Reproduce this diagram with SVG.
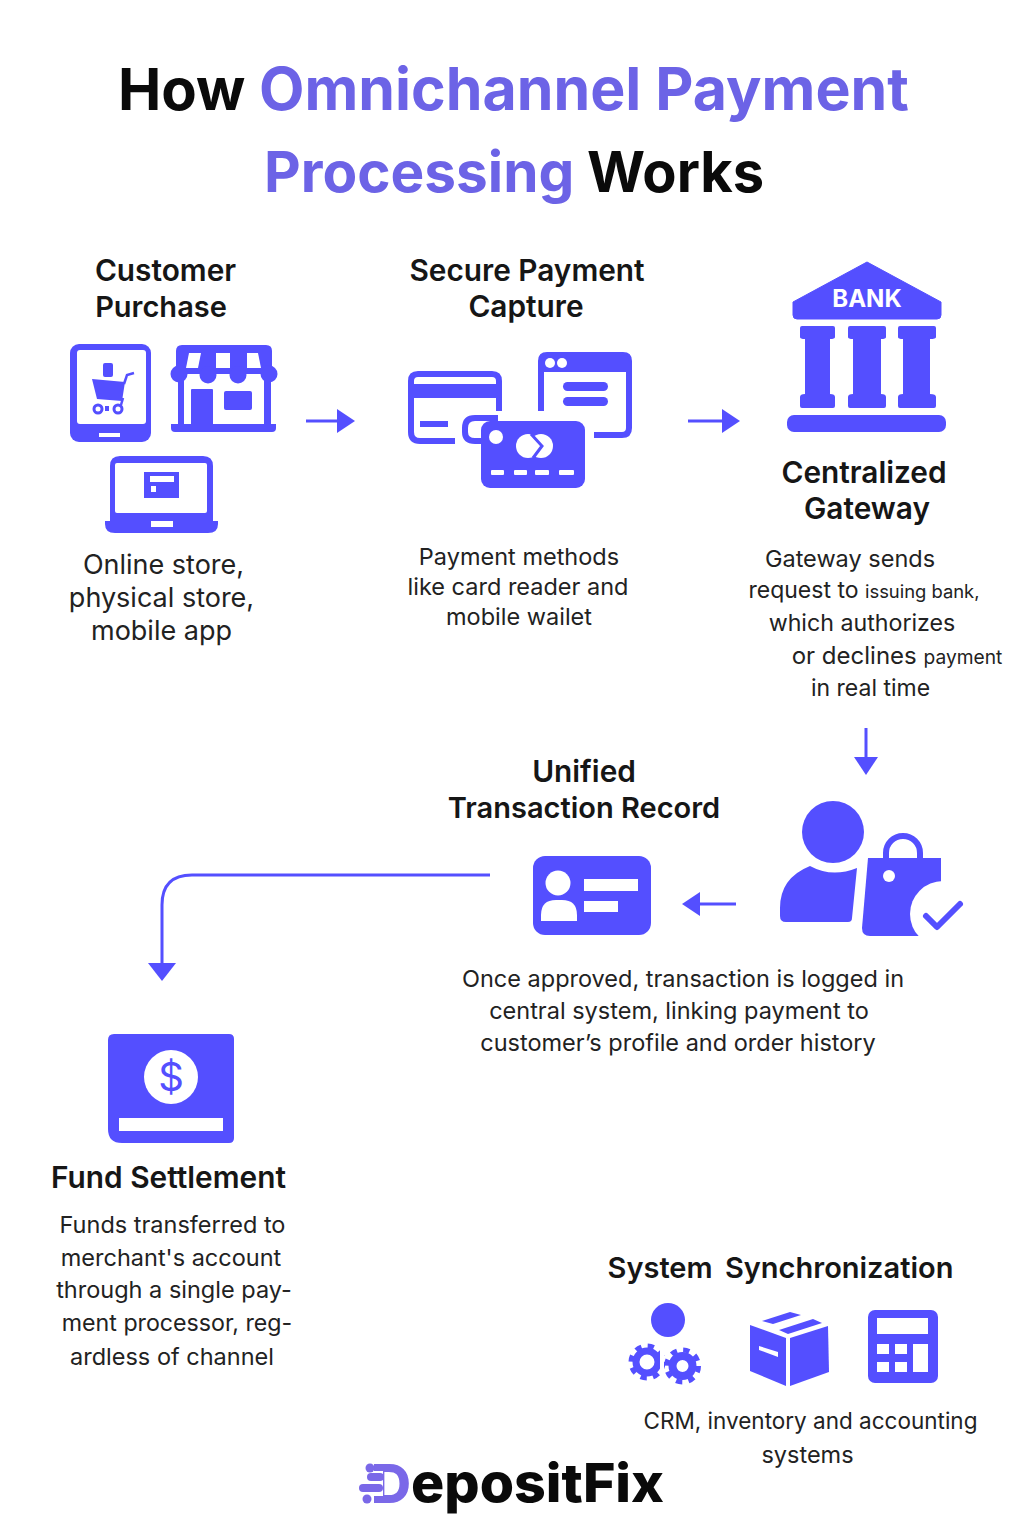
<svg xmlns="http://www.w3.org/2000/svg" width="1024" height="1536" viewBox="0 0 1024 1536">
<style>
text{font-family:"Inter","Liberation Sans",sans-serif;fill:#1a1a1a}
.t{font-weight:700;fill:#0a0a0a}
.p{fill:#6c63e6}
.h{font-size:29.8px;font-weight:600;text-anchor:middle;fill:#161616}
.n{font-size:29px}
.b{font-size:27px;text-anchor:middle;fill:#222}
.c{font-size:23.5px;text-anchor:middle;fill:#222}
.i{fill:#544fff}
.w{fill:#fff}
.l{fill:#7a68e8}
.o{fill:none;stroke:#544fff;stroke-width:6}
.a{fill:none;stroke:#544fff;stroke-width:3;marker-end:url(#ah)}
.s{font-size:.8em}
</style>
<defs>
<marker id="ah" markerUnits="userSpaceOnUse" markerWidth="18" markerHeight="24" viewBox="0 0 18 24" refX="0" refY="12" orient="auto"><path d="M0,0 L18,12 L0,24Z" fill="#544fff"/></marker>
<marker id="ah2" markerUnits="userSpaceOnUse" markerWidth="18" markerHeight="28" viewBox="0 0 18 28" refX="0" refY="14" orient="auto"><path d="M0,0 L18,14 L0,28Z" fill="#544fff"/></marker>
</defs>
<rect width="1024" height="1536" fill="#fff"/>
<g id="title">
<text class="t" x="118" y="110" font-size="58">How</text>
<text class="t p" x="259" y="110" font-size="59" style="fill:#6c63e6">Omnichannel Payment</text>
<text class="t p" x="264" y="192" font-size="56.7" style="fill:#6c63e6">Processing</text>
<text class="t" x="587" y="192" font-size="56">Works</text>
</g>
<g id="connectors">
<path class="a" d="M306,421 H337"/>
<path class="a" d="M688,421 H722"/>
<path class="a" d="M866,728 V757"/>
<path class="a" d="M736,904 H700"/>
<path class="a" style="marker-end:url(#ah2)" d="M490,875 H192 Q162,875 162,905 V963"/>
</g>
<g id="customer-purchase">
<text class="h" x="165.500" y="281">Customer</text>
<text class="h n" x="161" y="317">Purchase</text>
<rect class="i" x="70" y="344" width="81" height="98" rx="9"/>
<rect class="w" x="77" y="350" width="69" height="74" rx="3"/>
<rect class="w" x="99" y="433" width="21" height="4"/>
<rect class="i" x="103" y="363" width="10" height="14" rx="2"/>
<path class="i" d="M92,379 L125,382 L122,401 L97,399Z"/>
<path d="M124,384 L127,375 L134,373" fill="none" stroke="#544fff" stroke-width="2.500"/>
<path d="M123,398 L121,405" fill="none" stroke="#544fff" stroke-width="2.500"/>
<circle cx="98" cy="409" r="4" fill="#fff" stroke="#544fff" stroke-width="3"/>
<circle cx="118" cy="409" r="4" fill="#fff" stroke="#544fff" stroke-width="3"/>
<rect class="i" x="105" y="406" width="4" height="5"/>
<path class="i" d="M176,351 Q176,345 182,345 H266 Q272,345 272,351 V374 H176Z"/>
<circle class="i" cx="179" cy="374" r="8.500"/>
<circle class="i" cx="269" cy="374" r="8.500"/>
<circle class="i" cx="208" cy="375" r="8.500"/>
<circle class="i" cx="238" cy="375" r="8.500"/>
<rect class="i" x="178" y="376" width="6" height="50"/>
<rect class="i" x="264" y="376" width="7" height="50"/>
<path class="i" d="M171,424 H276 V428 Q276,432 272,432 H175 Q171,432 171,428Z"/>
<path class="w" d="M189,353 H201 L198,368 H186Z"/>
<rect class="w" x="216" y="353" width="14" height="15"/>
<path class="w" d="M247,353 H258 L261,368 H247Z"/>
<rect class="i" x="191" y="389" width="22" height="36" rx="1"/>
<rect class="i" x="224" y="391" width="28" height="19" rx="2"/>
<path class="i" d="M110,521 V466 Q110,456 120,456 H203 Q213,456 213,466 V521 H218 V524 Q218,533 208,533 H115 Q105,533 105,524 V521Z"/>
<rect class="w" x="115" y="463" width="92" height="50" rx="2"/>
<rect class="w" x="151" y="521" width="22" height="6"/>
<rect class="i" x="144" y="472" width="35" height="26"/>
<rect class="w" x="150" y="476" width="24" height="6"/>
<rect class="w" x="151" y="486" width="5" height="6"/>
<text class="b" x="163.500" y="574">Online store,</text>
<text class="b" x="161.500" y="607">physical store,</text>
<text class="b" x="161.500" y="640">mobile app</text>
</g>
<g id="secure-payment-capture">
<text class="h" x="527" y="281">Secure Payment</text>
<text class="h" x="526" y="317">Capture</text>
<path class="o" d="M499,411 V381 Q499,374 492,374 H418 Q411,374 411,381 V432 Q411,441 420,441 H455"/>
<rect class="i" x="411" y="384" width="88" height="14"/>
<rect class="i" x="420" y="421" width="28" height="6"/>
<path class="o" d="M498,418 H475 Q465,418 465,428 V432 Q465,441 475,441 H485"/>
<path class="o" d="M541,411 V361 Q541,355 547,355 H623 Q629,355 629,361 V428 Q629,435 622,435 H594"/>
<path class="i" d="M541,372 V361 Q541,355 547,355 H623 Q629,355 629,361 V372Z"/>
<circle class="w" cx="550" cy="363" r="5"/>
<circle class="w" cx="562" cy="363" r="5"/>
<rect class="i" x="563" y="382" width="45" height="9" rx="4.500"/>
<rect class="i" x="563" y="397" width="45" height="9" rx="4.500"/>
<rect class="i" x="481" y="421" width="104" height="67" rx="9"/>
<circle class="w" cx="496" cy="437" r="7"/>
<circle class="w" cx="528" cy="446" r="12"/>
<circle class="w" cx="541" cy="446" r="12"/>
<path d="M531,434 L542,446 L533,458" fill="none" stroke="#544fff" stroke-width="3"/>
<rect class="w" x="491" y="470" width="13" height="5" rx="1"/>
<rect class="w" x="514" y="470" width="13" height="5" rx="1"/>
<rect class="w" x="535" y="470" width="14" height="5" rx="1"/>
<rect class="w" x="559" y="470" width="15" height="5" rx="1"/>
<text class="c" x="519" y="565">Payment methods</text>
<text class="c" x="518" y="595">like card reader and</text>
<text class="c" x="519" y="625">mobile wailet</text>
</g>
<g id="centralized-gateway">
<path class="i" d="M867,262 L941,302 V315 Q941,319 937,319 H797 Q793,319 793,315 V302Z" stroke="#544fff" stroke-width="1" stroke-linejoin="round"/>
<text x="867" y="307" text-anchor="middle" font-size="24" font-weight="700" style="fill:#fff">BANK</text>
<path class="i" d="M800,328 Q800,326 802,326 H833 Q835,326 835,328 V337 Q835,339 830,339 V394 Q835,394 835,397 V406 Q835,408 833,408 H802 Q800,408 800,406 V397 Q800,394 805,394 V339 Q800,339 800,337Z"/>
<path class="i" d="M848,328 Q848,326 850,326 H884 Q886,326 886,328 V337 Q886,339 881,339 V394 Q886,394 886,397 V406 Q886,408 884,408 H850 Q848,408 848,406 V397 Q848,394 853,394 V339 Q848,339 848,337Z"/>
<path class="i" d="M898,328 Q898,326 900,326 H934 Q936,326 936,328 V337 Q936,339 930,339 V394 Q936,394 936,397 V406 Q936,408 934,408 H900 Q898,408 898,406 V397 Q898,394 903,394 V339 Q898,339 898,337Z"/>
<rect class="i" x="787" y="415" width="159" height="17" rx="7"/>
<text class="h" x="864" y="483">Centralized</text>
<text class="h" x="867" y="519">Gateway</text>
<text class="c" x="850" y="567">Gateway sends</text>
<text class="c" x="864" y="598" style="font-size:23px">request to <tspan class="s">issuing bank,</tspan></text>
<text class="c" x="862" y="631" style="font-size:23.200px">which authorizes</text>
<text class="c" x="897" y="664" style="font-size:24px">or declines <tspan class="s">payment</tspan></text>
<text class="c" x="870.500" y="696" style="font-size:23px">in real time</text>
</g>
<g id="customer-order">
<circle class="i" cx="833" cy="832" r="31"/>
<path class="i" d="M810,866 Q780,878 780,908 V916 Q780,922 786,922 H848 Q852,922 852,918 L857,868 Q832,878 810,866Z"/>
<path d="M886,860 V853 A17,17 0 0 1 920,853 V860" fill="none" stroke="#544fff" stroke-width="6"/>
<path class="i" d="M868,858 H941 V936 H870 Q862,936 862,928Z"/>
<circle class="w" cx="943" cy="914" r="33"/>
<rect class="w" x="941" y="880" width="30" height="60"/>
<circle class="w" cx="889" cy="876" r="6"/>
<path d="M926,916 L937,927 L960,904" fill="none" stroke="#544fff" stroke-width="6" stroke-linecap="round" stroke-linejoin="round"/>
</g>
<g id="unified-transaction-record">
<text class="h" x="584" y="782">Unified</text>
<text class="h n" x="584" y="818">Transaction Record</text>
<rect class="i" x="533" y="856" width="118" height="79" rx="12"/>
<circle class="w" cx="558" cy="883" r="12.500"/>
<path class="w" d="M541,921 V915 Q541,900 556,900 H562 Q577,900 577,915 V921Z"/>
<rect class="w" x="584" y="879" width="54" height="12"/>
<rect class="w" x="584" y="901" width="34" height="11"/>
<text class="c" x="683" y="987">Once approved, transaction is logged in</text>
<text class="c" x="679" y="1019">central system, linking payment to</text>
<text class="c" x="678" y="1051">customer’s profile and order history</text>
</g>
<g id="fund-settlement">
<path class="i" d="M114,1034 H229 Q234,1034 234,1039 V1138 Q234,1143 229,1143 H122 Q108,1143 108,1129 V1040 Q108,1034 114,1034Z"/>
<circle class="w" cx="171" cy="1077" r="27"/>
<text x="171" y="1091" text-anchor="middle" font-size="40" font-weight="400" style="fill:#544fff">$</text>
<rect class="w" x="119" y="1118" width="104" height="13"/>
<text class="h" x="168.500" y="1188">Fund Settlement</text>
<text class="c" x="172.500" y="1233">Funds transferred to</text>
<text class="c" x="171" y="1266">merchant's account</text>
<text class="c" x="174" y="1298">through a single pay-</text>
<text class="c" x="177" y="1331" style="font-size:23.200px">ment processor, reg-</text>
<text class="c" x="172" y="1365">ardless of channel</text>
</g>
<g id="system-synchronization">
<text class="h n" x="780.500" y="1278" word-spacing="5">System Synchronization</text>
<circle class="i" cx="668" cy="1320" r="17"/>
<g id="gear-a"><circle cx="647" cy="1362" r="16" fill="none" stroke="#544fff" stroke-width="5" stroke-dasharray="6.300 6.300"/><circle cx="647" cy="1362" r="11" fill="none" stroke="#544fff" stroke-width="7"/><rect class="w" x="660" y="1340" width="4" height="44"/></g>
<g id="gear-b"><circle cx="682.500" cy="1366" r="16" fill="none" stroke="#544fff" stroke-width="5" stroke-dasharray="6.300 6.300"/><circle cx="682.500" cy="1366" r="10" fill="none" stroke="#544fff" stroke-width="8"/></g>
<path class="i" d="M750,1325 L786,1338 V1386 L750,1371Z"/>
<path class="i" d="M790,1338 L828,1326 L829,1372 L790,1386Z"/>
<path class="i" d="M762,1321 L790,1312 L801,1315 L773,1324Z"/>
<path class="i" d="M779,1330 L813,1319 L822,1323 L788,1334Z"/>
<path class="w" d="M759,1346 L778,1352 V1357 L759,1350Z"/>
<rect class="i" x="868" y="1310" width="70" height="73" rx="7"/>
<rect class="w" x="877" y="1318" width="51" height="16"/>
<rect class="w" x="877" y="1344" width="12" height="10"/>
<rect class="w" x="895" y="1344" width="12" height="10"/>
<rect class="w" x="877" y="1362" width="12" height="10"/>
<rect class="w" x="895" y="1362" width="12" height="10"/>
<rect class="w" x="913" y="1344" width="15" height="28"/>
<text class="c" x="810.500" y="1429" style="font-size:22.500px">CRM, inventory and accounting</text>
<text class="c" x="807.500" y="1463">systems</text>
</g>
<g id="logo">
<text x="372" y="1503" font-size="54" font-weight="800" class="l" style="fill:#7a68e8">D</text>
<rect class="w" x="370" y="1471" width="13" height="26"/>
<rect class="l" x="374" y="1464" width="9" height="7"/>
<rect class="l" x="374" y="1496" width="9" height="7"/>
<circle class="l" cx="370" cy="1468" r="4.500"/>
<rect class="l" x="367" y="1473" width="17" height="8" rx="4"/>
<rect class="l" x="359" y="1484" width="24" height="8" rx="4"/>
<circle class="l" cx="367" cy="1499" r="4.500"/>
<text x="411" y="1502" font-size="54" font-weight="800" textLength="253" lengthAdjust="spacingAndGlyphs" style="fill:#0a0a0a">epositFix</text>
</g>
</svg>
